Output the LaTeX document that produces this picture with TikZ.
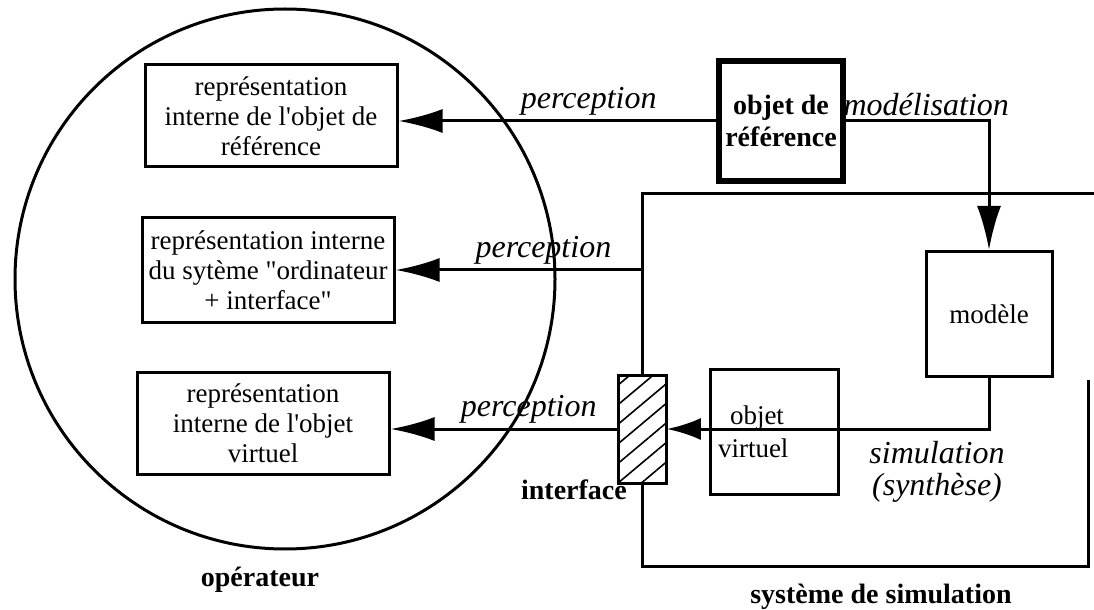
\documentclass[tikz,border=0pt]{standalone}
\usepackage{fontspec}
\setmainfont{Liberation Serif}
\usepackage{tikz}
\usetikzlibrary{arrows.meta,patterns.meta,positioning}
\tikzset{internal rep/.style={draw=black, rectangle, line width=1.5pt, align=center, inner sep=1pt, minimum width=126pt, minimum height=51pt, font=\fontsize{13.5}{15}\selectfont}}
\tikzset{sim block/.style={draw=black, rectangle, line width=1.5pt, minimum width=63pt, minimum height=62.5pt, font=\fontsize{13.5}{16.5}\selectfont}}
\tikzset{flow/.style={line width=1.5pt, -{Latex[length=22pt,width=12pt]}}}
\tikzset{flow label/.style={font=\fontsize{16}{16}\selectfont\itshape, inner sep=2pt}}
\tikzset{part label/.style={font=\fontsize{14}{16}\selectfont\bfseries, inner sep=0pt}}
\newcommand{\apos}{\textquotesingle}
\newcommand{\dquote}{\textquotedbl}

\begin{document}
\begin{tikzpicture}[x=0.5pt, y=-0.5pt]
\useasboundingbox (0,0) rectangle (1094,610);
% the operator and what he keeps in mind
\node[draw, circle, line width=1.5pt, minimum size=270pt, inner sep=0pt] (operator) at (285,279) {};
\node[internal rep] (refrep) at (271,116) {représentation\\interne de l\apos objet de\\référence};
\node[internal rep, minimum height=52pt] (sysrep) at (268,270) {représentation interne\\du sytème \dquote ordinateur\\+ interface\dquote};
\node[internal rep] (virtrep) at (263,423) {représentation\\interne de l\apos objet\\virtuel};
\node[part label] (oplabel) at (260,580) {opérateur};
% the simulation system
\node[draw, rectangle, line width=3pt, minimum width=61pt, minimum height=60pt, align=center, font=\fontsize{14}{16}\selectfont\bfseries] (objref) at (781,121) {objet de\\référence};
\node[sim block] (model) at (989,314) {modèle};
\node[sim block, align=left, text width=56pt, inner xsep=4pt] (virtual) at (774,432) {\hspace{6pt}objet\\virtuel};
\node[draw, rectangle, line width=1.5pt, minimum width=24pt, minimum height=54pt, pattern={Lines[angle=40,distance=7.5pt,line width=0.8pt]}] (interface) at (642,429) {};
\node[part label, anchor=north east, xshift=5pt, yshift=2pt] (intlabel) at (interface.south west) {interface};
\node[part label] (simlabel) at (881,597) {système de simulation};
\coordinate (systop) at (1094,194);
\coordinate (sysright) at (1088,380);
\coordinate (sysbottom) at (1088,566);
\draw[line width=1.5pt] (interface.north) -- (interface.north |- systop) -- (systop);
\draw[line width=1.5pt] (interface.south) -- (interface.south |- sysbottom) -- (sysbottom) -- (sysright);
% arrows
\draw[flow] (objref.west) -- (objref.west -| refrep.east) node[flow label, above, pos=0.4] {perception};
\draw[flow] (sysrep.east -| interface.north) -- (sysrep.east) node[flow label, above, pos=0.4] {perception};
\draw[flow] (interface.west) -- (interface.west -| virtrep.east) node[flow label, above, pos=0.39] {perception};
\draw[flow] (objref.east) -| (model.north) node[flow label, above, pos=0.28] {modélisation};
\draw[flow, -{Latex[length=17pt,width=11pt]}] (model.south) |- (interface.east) node[flow label, align=center, anchor=north, pos=0.5, xshift=-26pt, yshift=-3.5pt] {simulation\\(synthèse)};
\end{tikzpicture}
\end{document}
